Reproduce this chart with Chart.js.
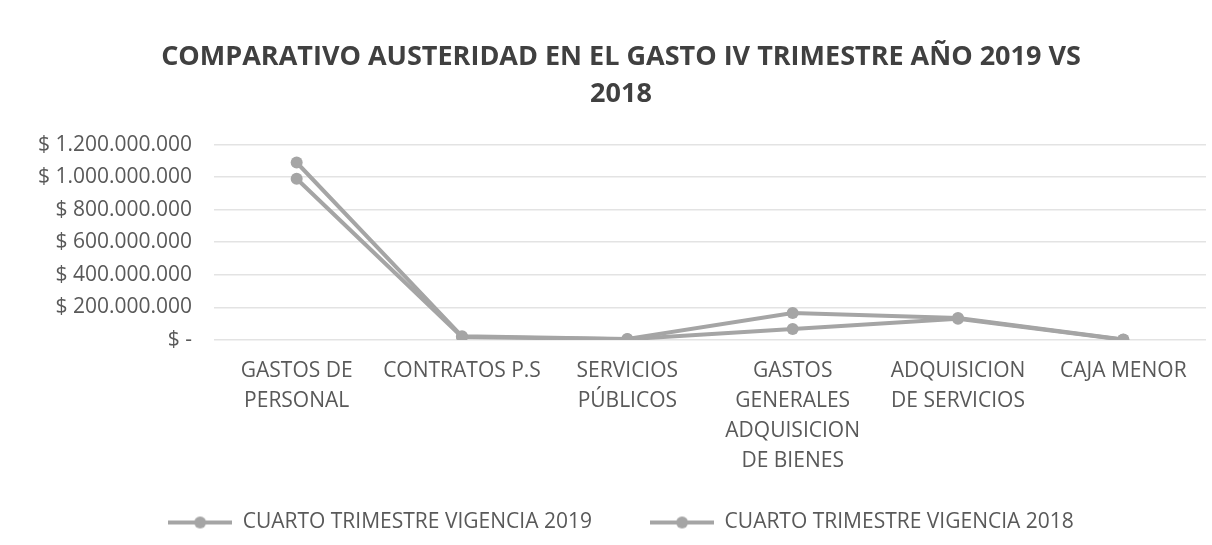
<!DOCTYPE html>
<html>
<head>
<meta charset="utf-8">
<script src="https://cdn.jsdelivr.net/npm/chart.js@4"></script>
<style>
	html, body { margin: 0; padding: 0; background: #fff; }
	#wrap { width: 1212px; height: 545px; }
</style>
</head>
<body>
<div id="wrap"><canvas id="austeridad"></canvas></div>
<script>
var categorias = [
	['GASTOS DE', 'PERSONAL'],
	'CONTRATOS P.S',
	['SERVICIOS', 'PÚBLICOS'],
	['GASTOS', 'GENERALES', 'ADQUISICION', 'DE BIENES'],
	['ADQUISICION', 'DE SERVICIOS'],
	'CAJA MENOR'
];
var vigencia2019 = [1090000000, 22000000, 6000000, 165000000, 135000000, 2000000];
var vigencia2018 = [990000000, 18000000, 4000000, 67000000, 130000000, 1000000];
var nombresSeries = ['CUARTO TRIMESTRE VIGENCIA 2019', 'CUARTO TRIMESTRE VIGENCIA 2018'];
var titulo = ['COMPARATIVO AUSTERIDAD EN EL GASTO IV TRIMESTRE AÑO 2019 VS', '2018'];

var gris = '#a5a5a5';
var fuente = "'Open Sans', sans-serif";

// marcador de la leyenda: linea con circulo
var marca = document.createElement('canvas');
marca.width = 64; marca.height = 14;
var mctx = marca.getContext('2d');
mctx.strokeStyle = gris; mctx.lineWidth = 4;
mctx.beginPath(); mctx.moveTo(0, 7); mctx.lineTo(64, 7); mctx.stroke();
mctx.fillStyle = gris;
mctx.beginPath(); mctx.arc(32, 7, 6, 0, Math.PI * 2); mctx.fill();

function pesos(v) {
	if (v === 0) return '$ -';
	return '$ ' + v.toString().replace(/\B(?=(\d{3})+(?!\d))/g, '.');
}

function serie(nombre, datos) {
	return {
		label: nombre,
		data: datos,
		borderColor: gris,
		backgroundColor: gris,
		borderWidth: 4,
		pointRadius: 6,
		pointBorderWidth: 0,
		pointBackgroundColor: gris,
		tension: 0
	};
}

const ctx = document.getElementById('austeridad').getContext('2d');
const grafico = new Chart(ctx, {
	type: 'line',
	data: {
		labels: categorias,
		datasets: [serie(nombresSeries[0], vigencia2019), serie(nombresSeries[1], vigencia2018)]
	},
	options: {
		responsive: true,
		maintainAspectRatio: false,
		animation: false,
		layout: { padding: { left: 34, right: 4, top: 38, bottom: 2 } },
		scales: {
			x: {
				offset: true,
				grid: { display: false, drawTicks: false, offset: true },
				border: { display: false },
				ticks: {
					color: '#595959',
					font: { family: fuente, size: 21, lineHeight: 1.43 },
					maxRotation: 0,
					autoSkip: false,
					padding: 16
				}
			},
			y: {
				min: 0,
				max: 1200000000,
				afterFit: function(scale) { scale.width = 180; },
				grid: { color: '#e3e3e3', lineWidth: 1.5, drawTicks: false },
				border: { display: false },
				ticks: {
					stepSize: 200000000,
					color: '#595959',
					padding: 22,
					font: { family: fuente, size: 21 },
					callback: function(v) { return pesos(v); }
				}
			}
		},
		plugins: {
			title: {
				display: true,
				text: titulo,
				color: '#404040',
				font: { family: fuente, size: 27, weight: 'bold', lineHeight: 1.4 },
				padding: { top: 0, bottom: 31 }
			},
			legend: {
				position: 'bottom',
				labels: {
					usePointStyle: true,
					pointStyle: marca,
					pointStyleWidth: 64,
					color: '#595959',
					font: { family: fuente, size: 21 },
					padding: 20,
					generateLabels: function(chart) {
						var items = Chart.defaults.plugins.legend.labels.generateLabels(chart);
						// separacion extra entre las dos entradas
						items[0].text = items[0].text + '       ';
						return items;
					}
				}
			},
			tooltip: { enabled: false }
		}
	}
});
</script>
</body>
</html>
